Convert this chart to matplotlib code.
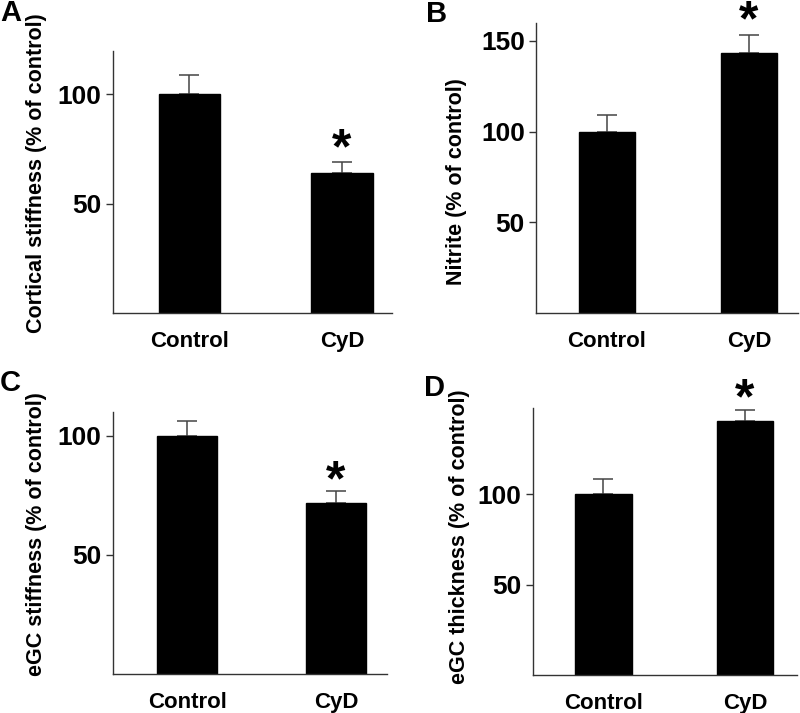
import matplotlib
matplotlib.use("Agg")
import matplotlib.pyplot as plt

plt.rcParams['font.family'] = ['Liberation Sans', 'DejaVu Sans']
plt.rcParams['font.weight'] = 'bold'

categories = ["Control", "CyD"]

stiff_vals = [100, 63.9]
stiff_err = [8.9, 5.1]

nitrite_vals = [100, 143.5]
nitrite_err = [9.2, 9.9]

egc_stiff_vals = [100, 71.9]
egc_stiff_err = [6.0, 5.0]

egc_thick_vals = [100, 140.8]
egc_thick_err = [8.5, 5.9]

panels = [
    dict(letter="A", vals=stiff_vals, err=stiff_err, ylabel="Cortical stiffness (% of control)",
         ylim=(0, 120), yticks=[50, 100], star_y=79,
         rect=[0.1409, 0.5614, 0.3487, 0.3675], xright=1.325,
         lab=(-0.235, 0.534), letter_xy=(11, 13)),
    dict(letter="B", vals=nitrite_vals, err=nitrite_err, ylabel="Nitrite (% of control)",
         ylim=(0, 160), yticks=[50, 100, 150], star_y=165.6,
         rect=[0.67, 0.561, 0.3275, 0.4072], xright=1.346,
         lab=(-0.263, 0.452), letter_xy=(437, 14)),
    dict(letter="C", vals=egc_stiff_vals, err=egc_stiff_err, ylabel="eGC stiffness (% of control)",
         ylim=(0, 110), yticks=[50, 100], star_y=84.6,
         rect=[0.1409, 0.0543, 0.3425, 0.3683], xright=1.34,
         lab=(-0.241, 0.534), letter_xy=(10, 383)),
    dict(letter="D", vals=egc_thick_vals, err=egc_thick_err, ylabel="eGC thickness (% of control)",
         ylim=(0, 148), yticks=[50, 100], star_y=157.5,
         rect=[0.6659, 0.0533, 0.33, 0.3749], xright=1.366,
         lab=(-0.2375, 0.517), letter_xy=(435, 388)),
]

fig = plt.figure(figsize=(8, 7.13), dpi=100)
spine_c = "#333333"
x = [0, 1]
for p in panels:
    ax = fig.add_axes(p["rect"])
    ax.errorbar(x, p["vals"], yerr=[[0, 0], p["err"]], fmt="none", ecolor="#444444",
                elinewidth=1.1, capsize=7, capthick=1.1, zorder=1)
    ax.bar(x, p["vals"], width=0.4, color="black", edgecolor="black", zorder=2)
    ax.set_xlim(-0.5, p["xright"])
    ax.set_ylim(*p["ylim"])
    ax.set_yticks(p["yticks"])
    ax.set_xticks(x)
    ax.set_xticklabels(categories, fontsize=16, fontweight="bold")
    ax.tick_params(axis="x", length=0, pad=13)
    ax.tick_params(axis="y", length=5, width=1, pad=3, labelsize=19, color=spine_c)
    for t in ax.get_yticklabels():
        t.set_fontweight("bold")
    for s in ["top", "right"]:
        ax.spines[s].set_visible(False)
    for s in ["left", "bottom"]:
        ax.spines[s].set_color(spine_c)
        ax.spines[s].set_linewidth(1)
    ax.set_ylabel(p["ylabel"], fontsize=15.5, fontweight="bold")
    ax.yaxis.set_label_coords(*p["lab"])
    ax.annotate("*", xy=(1, p["star_y"]), xytext=(0, -7), textcoords="offset points",
                fontsize=36, fontweight="bold", ha="center", va="center",
                annotation_clip=False)
    lx, ly = p["letter_xy"]
    fig.text(lx / 800, 1 - ly / 713, p["letter"], fontsize=21, fontweight="bold",
             ha="center", va="center")

fig.savefig("out.png", dpi=100)
